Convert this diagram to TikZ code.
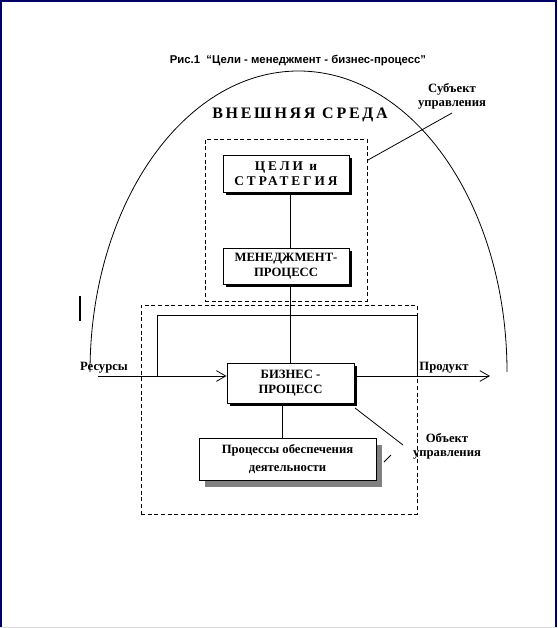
\documentclass[tikz,border=0pt]{standalone}
\usepackage{fontspec}
\setmainfont{Liberation Serif}
\newfontfamily\titlefont{Liberation Sans}
\newfontfamily\spacedfont[LetterSpace=22]{Liberation Serif}
\newfontfamily\envfont[LetterSpace=17]{Liberation Serif}
\usetikzlibrary{arrows.meta,shadows}
\definecolor{navyframe}{HTML}{000066}
\definecolor{shadowgray}{HTML}{808080}
\begin{document}
\begin{tikzpicture}[x=0.75pt,y=-0.75pt,line width=0.6pt,
  box/.style={draw,fill=white,inner sep=0pt,align=center,line width=0.75pt,
    font=\bfseries\fontsize{9.5}{11.5}\selectfont},
  blackshadow/.style={drop shadow={shadow xshift=2.4pt,shadow yshift=-2.4pt,fill=black,opacity=1}},
  grayshadow/.style={drop shadow={shadow xshift=4.5pt,shadow yshift=-5pt,fill=shadowgray,opacity=1}},
  dashbox/.style={draw,dash pattern=on 3pt off 2pt,line width=0.6pt},
  lbl/.style={font=\bfseries\fontsize{9.5}{10.5}\selectfont,align=center,inner sep=0pt},
  arr/.style={-{Straight Barb[length=7pt,width=8pt,line width=0.6pt]}}
]
\useasboundingbox (0,0) rectangle (557,628);
\fill[white] (0,0) rectangle (557,628);
% frame
\draw[navyframe,line width=1.5pt] (1,628) -- (1,1) -- (556,1) -- (556,628);
\draw[black!15,line width=1pt] (0,627.5) -- (557,627.5);

% title
\node[font=\titlefont\bfseries\fontsize{8.5}{10}\selectfont,inner sep=0pt] (title) at (298,61)
  {Рис.1\ \ “Цели - менеджмент - бизнес-процесс”};

% arch
\coordinate (archL) at (90,372);
\coordinate (archT) at (298.5,71);
\coordinate (archR) at (507,372);
\draw (archL) .. controls (90,205.8) and (183.3,71) .. (archT)
      .. controls (413.7,71) and (507,205.8) .. (archR);

\node[font=\envfont\bfseries\fontsize{12}{14}\selectfont,inner sep=0pt] (env) at (300,114.5)
  {ВНЕШНЯЯ СРЕДА};

% dashed boxes
\node[dashbox,minimum width=121.5pt,minimum height=121.5pt,inner sep=0pt] (subj) at (286,220) {};
\node[dashbox,minimum width=207pt,minimum height=156.75pt,inner sep=0pt] (obj) at (279,409.5) {};

% boxes
\node[box,blackshadow,minimum width=94.5pt,minimum height=27.75pt,
  font=\bfseries\fontsize{10}{11.5}\selectfont] (goals) at (286,173.5)
  {\spacedfont ЦЕЛИ и\\\spacedfont СТРАТЕГИЯ};
\node[box,blackshadow,minimum width=94.5pt,minimum height=27pt] (mgmt) at (286,266)
  {МЕНЕДЖМЕНТ-\\ПРОЦЕСС};
\node[box,blackshadow,minimum width=95.25pt,minimum height=30pt] (biz) at (290.5,383)
  {БИЗНЕС -\\ПРОЦЕСС};
\node[box,grayshadow,minimum width=132.75pt,minimum height=31.5pt,
  font=\bfseries\fontsize{9.5}{13}\selectfont] (proc) at (287.5,459)
  {Процессы обеспечения\\деятельности};

% vertical connectors
\coordinate (vx) at (290,0);
\coordinate (vx2) at (282,0);
\draw (goals.south -| vx) -- (mgmt.north -| vx);
\draw (mgmt.south -| vx) -- (biz.north -| vx);
\draw (biz.south -| vx2) -- (proc.north -| vx2);

% feedback loop
\coordinate (loopA) at (157,376);
\coordinate (loopB) at (157,315);
\coordinate (loopC) at (417,315);
\coordinate (loopD) at (417,376);
\draw (loopA) -- (loopB) -- (loopC) -- (loopD);

% input / output
\coordinate (resEnd) at (98,376);
\coordinate (prodEnd) at (490,376);
\draw[arr] (resEnd) -- (resEnd -| biz.west);
\draw[arr] (prodEnd -| biz.east) -- (prodEnd);
\node[lbl] (res) at (104,368) {Ресурсы};
\node[lbl] (prod) at (444,368) {Продукт};

% subject label
\node[lbl] (subjlbl) at (452,96) {Субъект\\управления};
\coordinate (subjA) at (452,113);
\coordinate (subjB) at (368,160);
\draw (subjA) -- (subjB);

% object label
\node[lbl] (objlbl) at (447,446) {Объект\\управления};
\coordinate (objA) at (355,408);
\coordinate (objB) at (403,445);
\draw (objA) -- (objB);
\coordinate (tickA) at (384,462);
\coordinate (tickB) at (391,455);
\draw (tickA) -- (tickB);

% small bar
\coordinate (barA) at (80,296);
\coordinate (barB) at (80,321);
\draw[line width=1.5pt] (barA) -- (barB);
\end{tikzpicture}
\end{document}
